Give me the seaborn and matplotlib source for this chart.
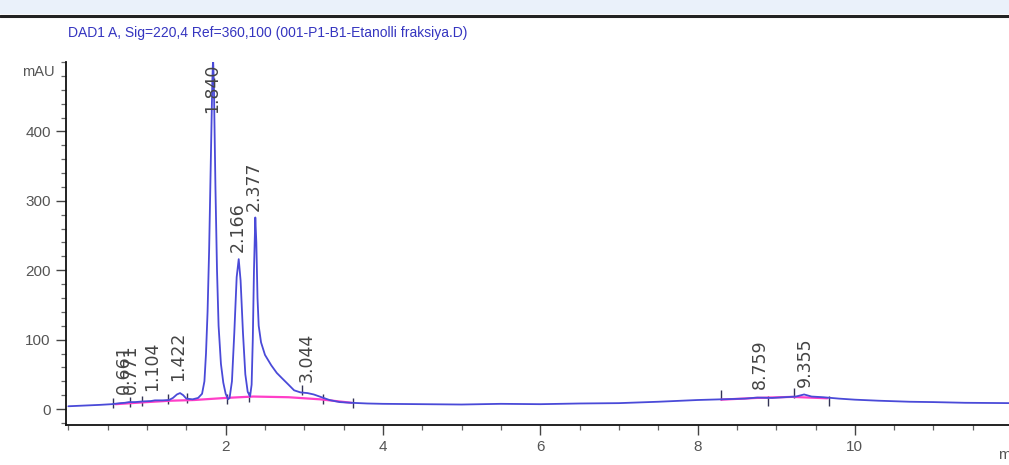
import matplotlib
matplotlib.use("Agg")
import matplotlib.pyplot as plt
import matplotlib.patches as mpatches
from matplotlib.ticker import MultipleLocator, FixedLocator
import seaborn as sns
import pandas as pd

# ---- data ----
time_min = [0.00, 0.20, 0.40, 0.55, 0.66, 0.72, 0.77, 0.85, 0.95, 1.05, 1.10, 1.20,
            1.28, 1.33, 1.38, 1.42, 1.46, 1.50, 1.58, 1.65, 1.70, 1.73, 1.75, 1.77,
            1.79, 1.81, 1.83, 1.84, 1.85, 1.87, 1.89, 1.91, 1.94, 1.97, 2.00, 2.03,
            2.05, 2.08, 2.11, 2.14, 2.166, 2.19, 2.22, 2.25, 2.28, 2.31, 2.33,
            2.345, 2.36, 2.377, 2.39, 2.405, 2.42, 2.45, 2.50, 2.58, 2.65, 2.72, 2.80,
            2.87, 2.95, 3.04, 3.12, 3.22, 3.32, 3.45, 3.60, 3.80, 4.00, 4.50, 5.00,
            5.50, 6.00, 6.50, 7.00, 7.50, 8.00, 8.30, 8.60, 8.76, 8.95, 9.10, 9.25,
            9.355, 9.45, 9.60, 9.80, 10.00, 10.30, 10.70, 11.00, 11.40, 12.00]
signal_mau = [4, 5, 6, 7, 8.5, 9, 10, 10, 11, 11.5, 12.5, 12.5,
              13, 16, 21, 23, 20, 15, 14, 16, 22, 40, 80, 140,
              230, 350, 470, 505, 470, 320, 200, 120, 65, 38, 22, 14,
              16, 40, 110, 190, 216, 185, 110, 50, 25, 18, 35,
              100, 200, 276, 240, 160, 120, 96, 78, 63, 52, 44, 35,
              27, 24, 23, 21, 17, 13, 10, 9, 8, 7.5, 7, 6.5,
              7.5, 7, 8, 8.5, 10.5, 13, 14, 15, 16.5, 16, 17, 18,
              21, 18, 17, 15, 13.5, 12, 10.5, 10, 9, 8.5]

# integration baselines (magenta)
base1_time = [0.60, 1.00, 1.30, 1.60, 2.00, 2.35, 2.80, 3.20, 3.60]
base1_mau = [7, 10, 12, 13, 16, 18, 17, 14, 9]
base2_time = [8.30, 8.75, 9.20, 9.65]
base2_mau = [13.5, 16, 17.5, 15.5]

# peak start/end tick marks
mark_time = [0.57, 0.79, 0.94, 1.27, 1.51, 2.02, 2.30, 2.97, 3.24, 3.62, 8.30, 8.90, 9.22, 9.67]
mark_mau = [8, 10, 11, 14, 16, 15, 18, 27, 15, 8, 20, 11, 23, 11]

# peak retention-time labels
peak_labels = ["0.661", "0.771", "1.104", "1.422", "1.840", "2.166", "2.377", "3.044", "8.759", "9.355"]
peak_label_x = [0.70, 0.79, 1.07, 1.39, 1.83, 2.15, 2.36, 3.03, 8.79, 9.36]
peak_label_y = [21, 21, 26, 40, 427, 226, 285, 39, 29, 32]

y_ticks = [0, 100, 200, 300, 400]
x_ticks = [2, 4, 6, 8, 10]
title_text = "DAD1 A, Sig=220,4 Ref=360,100 (001-P1-B1-Etanolli fraksiya.D)"

# ---- plotting ----
sns.set_theme(style="white")
narrow = ["Liberation Sans Narrow", "Liberation Sans", "DejaVu Sans"]
plt.rcParams["font.family"] = ["DejaVu Sans"]

W, H = 1009, 465
fig = plt.figure(figsize=(W / 100, H / 100), dpi=100)
fig.patch.set_facecolor("white")

# header strip
fig.add_artist(mpatches.Rectangle((0, 1 - 14 / H), 1, 14 / H, transform=fig.transFigure,
                                  facecolor="#eaf1fa", edgecolor="none"))
fig.add_artist(plt.Line2D([0, 1], [1 - 16 / H, 1 - 16 / H], transform=fig.transFigure,
                          color="#222222", lw=2.2))

left, right, top, bottom = 66, 1009, 62, 425
ax = fig.add_axes([left / W, 1 - bottom / H, (right - left) / W, (bottom - top) / H])
ax.set_facecolor("white")

trace = pd.DataFrame({"t": time_min, "y": signal_mau})
b1 = pd.DataFrame({"t": base1_time, "y": base1_mau})
b2 = pd.DataFrame({"t": base2_time, "y": base2_mau})
marks = pd.DataFrame({"t": mark_time, "y": mark_mau})

sns.lineplot(data=b1, x="t", y="y", ax=ax, color="#ff3fc8", lw=1.6, sort=False)
sns.lineplot(data=b2, x="t", y="y", ax=ax, color="#ff3fc8", lw=1.6, sort=False)
sns.lineplot(data=trace, x="t", y="y", ax=ax, color="#4a4ad8", lw=1.3, sort=False)
sns.scatterplot(data=marks, x="t", y="y", ax=ax, marker="|", s=45, color="#333355",
                linewidth=1.0)

for lab, lx, ly in zip(peak_labels, peak_label_x, peak_label_y):
    ax.text(lx, ly, lab, rotation=90, ha="center", va="bottom", fontsize=12.5,
            color="#444444", family=["DejaVu Sans"])

ax.set_xlim(-0.03, 11.96)
ax.set_ylim(-23, 500)
ax.set_xlabel("")
ax.set_ylabel("")

for s in ["top", "right"]:
    ax.spines[s].set_visible(False)
for s in ["left", "bottom"]:
    ax.spines[s].set_color("#111111")
    ax.spines[s].set_linewidth(1.3)

ax.yaxis.set_major_locator(FixedLocator(y_ticks))
ax.yaxis.set_minor_locator(MultipleLocator(20))
ax.xaxis.set_major_locator(FixedLocator(x_ticks))
ax.xaxis.set_minor_locator(MultipleLocator(0.5))
ax.set_yticklabels([str(v) for v in y_ticks])
ax.set_xticklabels([str(v) for v in x_ticks])
ax.tick_params(axis="both", which="major", direction="out", length=7, width=1.0,
               color="#444444", labelcolor="#555555", labelsize=11, pad=4)
ax.tick_params(axis="both", which="minor", direction="out", length=3.5, width=0.9,
               color="#666666")
ax.tick_params(axis="y", which="both", left=True)
ax.tick_params(axis="x", which="both", bottom=True)
for lbl in ax.get_xticklabels() + ax.get_yticklabels():
    lbl.set_family(narrow)

fig.text(22 / W, 1 - 72 / H, "mAU", fontsize=10.5, color="#555555", family=narrow,
         va="center", ha="left")
fig.text(998 / W, 1 - 455 / H, "min", fontsize=11, color="#555555", family=narrow,
         va="center", ha="left")
fig.text(68 / W, 1 - 33 / H, title_text, fontsize=10, color="#3535c0", family=narrow,
         va="center", ha="left")

fig.savefig("out.png", dpi=100, facecolor="white")
